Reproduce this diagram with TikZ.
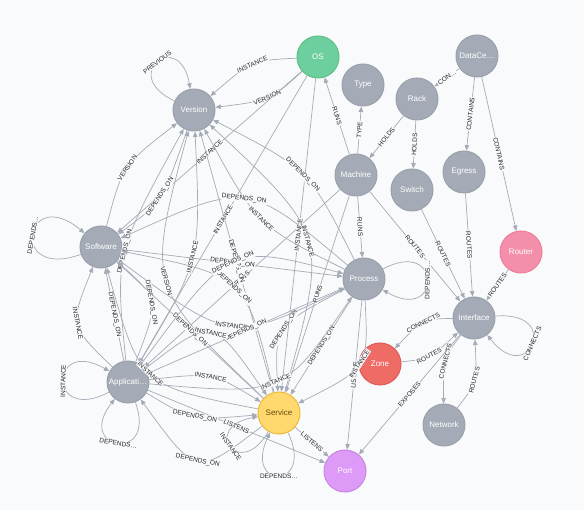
\documentclass[tikz,border=0pt]{standalone}
\usepackage{fontspec}
\setmainfont{Liberation Sans}
\usetikzlibrary{arrows.meta}
\definecolor{bgc}{HTML}{F9FAFC}
\definecolor{gryfill}{HTML}{A5ABB6}
\definecolor{grydraw}{HTML}{9AA1AC}
\definecolor{relc}{HTML}{A5ABB6}
\definecolor{osfill}{HTML}{6DCE9E}
\definecolor{osdraw}{HTML}{60BE86}
\definecolor{routfill}{HTML}{F48FAB}
\definecolor{routdraw}{HTML}{EC7E9B}
\definecolor{zonefill}{HTML}{EE6B66}
\definecolor{zonedraw}{HTML}{DE5B56}
\definecolor{portfill}{HTML}{DD9AF7}
\definecolor{portdraw}{HTML}{C686E0}
\definecolor{servfill}{HTML}{FFD86E}
\definecolor{servdraw}{HTML}{EDBA39}
\definecolor{servtext}{HTML}{604A0E}
\tikzset{
	ent/.style={circle, minimum size=42pt, inner sep=0pt, fill=gryfill, draw=grydraw, line width=1pt, text=white, font=\fontsize{8}{9}\selectfont},
	rel/.style={draw=relc, line width=0.7pt, -{Triangle[length=5.5pt,width=4.5pt]}},
	lbl/.style={sloped, midway, fill=bgc, inner sep=0.8pt, text=black!85, font=\fontsize{6.5}{7}\selectfont},
}
\begin{document}
\begin{tikzpicture}[x=1pt,y=1pt]
	\fill [bgc] (0,0) rectangle (584,-510);
	% entities
	\node [ent, fill=osfill, draw=osdraw] (os) at (318,-57) {OS};
	\node [ent] (type) at (363,-85) {Type};
	\node [ent] (rack) at (417,-99) {Rack};
	\node [ent] (dc) at (477,-56) {DataCe…};
	\node [ent] (ver) at (194,-110) {Version};
	\node [ent] (mach) at (356,-175) {Machine};
	\node [ent] (sw) at (412,-190) {Switch};
	\node [ent] (egr) at (464,-172) {Egress};
	\node [ent, fill=routfill, draw=routdraw] (rout) at (521,-252) {Router};
	\node [ent] (soft) at (101,-247) {Software};
	\node [ent] (proc) at (364,-279) {Process};
	\node [ent] (intf) at (474,-318) {Interface};
	\node [ent, fill=zonefill, draw=zonedraw] (zone) at (380,-364) {Zone};
	\node [ent] (app) at (128,-382) {Applicati…};
	\node [ent, fill=servfill, draw=servdraw, text=servtext] (serv) at (279,-413) {Service};
	\node [ent] (net) at (444,-425) {Network};
	\node [ent, fill=portfill, draw=portdraw] (port) at (345,-471) {Port};
	% infrastructure
	\draw [rel] (ver) to[out=155,in=100,min distance=62pt] node[lbl]{PREVIOUS} (ver);
	\draw [rel] (os) .. controls (252,-60.5) .. (ver) node[lbl]{INSTANCE};
	\draw [rel] (os) .. controls (270,-100.5) .. (ver) node[lbl]{VERSION};
	\draw [rel] (mach) -- (os) node[lbl]{RUNS};
	\draw [rel] (mach) -- (type) node[lbl]{TYPE};
	\draw [rel] (rack) -- (mach) node[lbl]{HOLDS};
	\draw [rel] (rack) -- (sw) node[lbl]{HOLDS};
	\draw [rel] (dc) -- (rack) node[lbl]{CON…};
	\draw [rel] (dc) -- (egr) node[lbl]{CONTAINS};
	\draw [rel] (dc) -- (rout) node[lbl]{CONTAINS};
	\draw [rel] (mach) -- (proc) node[lbl]{RUNS};
	\draw [rel] (mach) -- (intf) node[lbl]{ROUTES};
	\draw [rel] (sw) -- (intf) node[lbl]{ROUTES};
	\draw [rel] (egr) -- (intf) node[lbl]{ROUTES};
	\draw [rel] (rout) -- (intf) node[lbl]{ROUTES};
	\draw [rel] (intf) to[out=5,in=-52,min distance=68pt] node[lbl]{CONNECTS} (intf);
	\draw [rel] (intf) .. controls (423,-319) .. (zone) node[lbl]{CONNECTS};
	\draw [rel] (zone) .. controls (429,-359) .. (intf) node[lbl]{ROUTES};
	\draw [rel] (intf) .. controls (443,-358.5) .. (net) node[lbl]{CONNECTS};
	\draw [rel] (net) .. controls (477,-382.5) .. (intf) node[lbl]{ROUTES};
	\draw [rel] (intf) -- (port) node[lbl]{EXPOSES};
	% processes and services
	\draw [rel] (proc) to[out=28,in=-30,min distance=68pt] node[lbl]{DEPENDS…} (proc);
	\draw [rel] (proc) -- (port) node[lbl]{LISTENS};
	\draw [rel] (serv) -- (port) node[lbl]{LISTENS};
	\draw [rel] (app) -- (port) node[lbl]{LISTENS};
	\draw [rel] (proc) .. controls (368.5,-368) .. (serv) node[lbl]{INSTANCE};
	\draw [rel] (proc) -- (serv) node[lbl]{DEPENDS\_ON};
	\draw [rel] (proc) .. controls (274.5,-326) .. (serv) node[lbl]{DEPENDS\_ON};
	\draw [rel] (mach) -- (serv) node[lbl]{RUNS};
	\draw [rel] (mach) -- (app) node[lbl]{RUNS};
	\draw [rel] (os) -- (soft) node[lbl]{INSTANCE};
	\draw [rel] (os) -- (app) node[lbl]{INSTANCE};
	\draw [rel] (os) -- (serv) node[lbl]{INSTANCE};
	% versions
	\draw [rel] (soft) .. controls (122.5,-165.5) .. (ver) node[lbl]{VERSION};
	\draw [rel] (ver) .. controls (162.5,-201.5) .. (soft) node[lbl]{DEPENDS\_ON};
	\draw [rel] (app) .. controls (115,-254) .. (ver) node[lbl]{DEPENDS\_ON};
	\draw [rel] (app) .. controls (201,-260) .. (ver) node[lbl]{INSTANCE};
	\draw [rel] (serv) .. controls (146.5,-286.5) .. (ver) node[lbl]{VERSION};
	\draw [rel] (serv) -- (ver) node[lbl]{DEPENDS\_ON};
	\draw [rel] (serv) .. controls (328.5,-235.5) .. (ver) node[lbl]{INSTANCE};
	\draw [rel] (proc) .. controls (257,-225.5) .. (ver) node[lbl]{INSTANCE};
	\draw [rel] (proc) .. controls (309,-169.5) .. (ver) node[lbl]{DEPENDS\_ON};
	% software
	\draw [rel] (soft) to[out=200,in=140,min distance=78pt] node[lbl]{DEPENDS…} (soft);
	\draw [rel] (proc) .. controls (247.5,-181) .. (soft) node[lbl]{DEPENDS\_ON};
	\draw [rel] (soft) -- (proc) node[lbl]{DEPENDS\_ON};
	\draw [rel] (soft) .. controls (231.5,-343) .. (proc) node[lbl]{INSTANCE};
	\draw [rel] (app) .. controls (69.5,-325.5) .. (soft) node[lbl]{INSTANCE};
	\draw [rel] (app) -- (soft) node[lbl]{DEPENDS\_ON};
	\draw [rel] (app) .. controls (159.5,-299.5) .. (soft) node[lbl]{DEPENDS\_ON};
	\draw [rel] (serv) .. controls (246,-276) .. (soft) node[lbl]{DEPENDS\_ON};
	\draw [rel] (serv) -- (soft) node[lbl]{DEPENDS\_ON};
	\draw [rel] (serv) .. controls (140,-386) .. (soft) node[lbl]{INSTANCE};
	% applications
	\draw [rel] (app) to[out=208,in=150,min distance=70pt] node[lbl]{INSTANCE} (app);
	\draw [rel] (app) to[out=290,in=232,min distance=66pt] node[lbl]{DEPENDS…} (app);
	\draw [rel] (app) .. controls (230,-243.5) .. (proc) node[lbl]{DEPENDS\_ON};
	\draw [rel] (app) -- (proc) node[lbl]{DEPENDS\_ON};
	\draw [rel] (app) .. controls (284,-395.5) .. (proc) node[lbl]{INSTANCE};
	\draw [rel] (app) .. controls (212.5,-316.5) .. (serv) node[lbl]{INSTANCE};
	\draw [rel] (app) .. controls (212.5,-372.5) .. (serv) node[lbl]{INSTANCE};
	\draw [rel] (app) .. controls (192.5,-420.5) .. (serv) node[lbl]{DEPENDS\_ON};
	\draw [rel] (serv) .. controls (196.5,-476.5) .. (app) node[lbl]{DEPENDS\_ON};
	\draw [rel] (serv) to[out=295,in=245,min distance=64pt] node[lbl]{DEPENDS…} (serv);
	\draw [rel] (serv) to[out=240,in=190,min distance=58pt] node[lbl]{INSTANCE} (serv);
\end{tikzpicture}
\end{document}
